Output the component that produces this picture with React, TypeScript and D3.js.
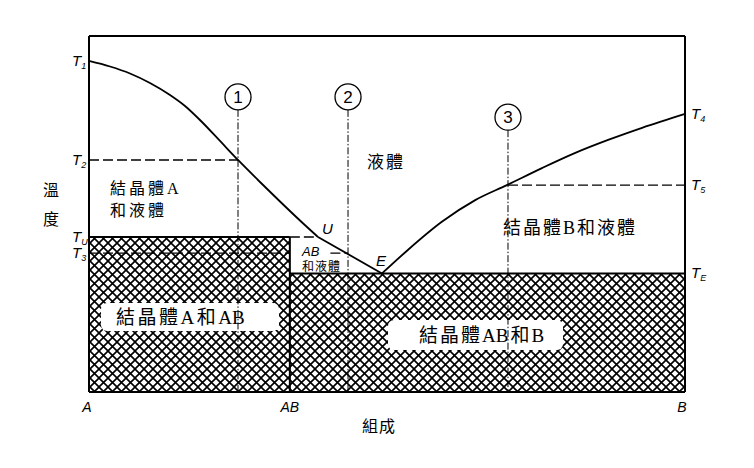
import React from "react";
import * as d3 from "d3";

// ---------- data (composition 0..1 from A to B, temperature 0..100) ----------
const leftLiquidus: [number, number][] = [
  [0, 93.0], [0.0352, 91.43], [0.0688, 89.47], [0.1023, 86.8], [0.1359, 83.43],
  [0.1611, 80.34], [0.1862, 76.4], [0.2198, 70.51], [0.25, 65.17], [0.2869, 58.99],
  [0.3205, 53.51], [0.354, 48.17], [0.3842, 43.54],
];
const peritecticToEutectic: [number, number][] = [[0.3842, 43.54], [0.4916, 33.3]];
const rightLiquidus: [number, number][] = [
  [0.4916, 33.3], [0.535, 39.9], [0.592, 47.8], [0.648, 53.9], [0.701, 58.1],
  [0.76, 62.9], [0.815, 67.1], [0.871, 70.8], [0.928, 74.2], [1, 78.1],
];
const compAB = 0.337;
const compU = 0.3842;
const tempTU = 43.54;
const tempTE = 33.3;
const tempT2 = 65.17;
const tempT3 = 39.0;
const tempT5 = 58.1;
const leftTempLabels = [
  { main: "T", sub: "1", t: 93.0 },
  { main: "T", sub: "2", t: 65.17 },
  { main: "T", sub: "U", t: 43.54 },
  { main: "T", sub: "3", t: 39.0 },
];
const rightTempLabels = [
  { main: "T", sub: "4", t: 78.1 },
  { main: "T", sub: "5", t: 58.1 },
  { main: "T", sub: "E", t: 33.3 },
];
const compTicks = [
  { label: "A", c: 0 },
  { label: "AB", c: 0.337 },
  { label: "B", c: 1 },
];
const isopleths = [
  { id: "1", c: 0.25, circleT: 82.9 },
  { id: "2", c: 0.4346, circleT: 82.9 },
  { id: "3", c: 0.703, circleT: 77.2 },
];

const W = 754;
const H = 468;
const x = d3.scaleLinear().domain([0, 1]).range([89, 685]);
const y = d3.scaleLinear().domain([0, 100]).range([392, 36]);

const CJK = "'Liberation Serif', 'Noto Sans CJK TC', serif";
const ITAL = "'Liberation Sans', 'DejaVu Sans', sans-serif";

export default function App() {
  const line = d3
    .line<[number, number]>()
    .x((d) => x(d[0]))
    .y((d) => y(d[1]))
    .curve(d3.curveMonotoneX);
  const straight = d3
    .line<[number, number]>()
    .x((d) => x(d[0]))
    .y((d) => y(d[1]));

  const R = 13;
  const P = 9;
  return (
    <svg width={W} height={H} style={{ position: "absolute", left: 0, top: 0, background: "#fff" }}>
      <defs>
        <pattern id="hatch" width={P} height={P} patternUnits="userSpaceOnUse">
          <path
            d={`M-2,-2 L${P + 2},${P + 2} M${P + 2},-2 L-2,${P + 2}`}
            stroke="#000"
            strokeWidth={1.6}
            fill="none"
          />
          <path
            d={`M-2,${P - 2} L2,${P + 2} M${P - 2},-2 L${P + 2},2 M-2,2 L2,-2 M${P - 2},${P + 2} L${P + 2},${P - 2}`}
            stroke="#000"
            strokeWidth={1.6}
            fill="none"
          />
        </pattern>
      </defs>
      <rect x={0} y={0} width={W} height={H} fill="#fff" />

      {/* hatched solid regions */}
      <rect x={x(0)} y={y(tempTU)} width={x(compAB) - x(0)} height={y(0) - y(tempTU)} fill="url(#hatch)" />
      <rect x={x(compAB)} y={y(tempTE)} width={x(1) - x(compAB)} height={y(0) - y(tempTE)} fill="url(#hatch)" />

      {/* white label boxes */}
      <rect x={101} y={303} width={178} height={28} rx={6} fill="#fff" />
      <rect x={388} y={320} width={175} height={30} rx={6} fill="#fff" />

      {/* region boundaries */}
      <line x1={x(0)} x2={x(compAB)} y1={y(tempTU)} y2={y(tempTU)} stroke="#000" strokeWidth={2} />
      <line x1={x(compAB)} x2={x(1)} y1={y(tempTE)} y2={y(tempTE)} stroke="#000" strokeWidth={2} />
      <line x1={x(compAB)} x2={x(compAB)} y1={y(tempTU)} y2={y(0)} stroke="#000" strokeWidth={2} />

      {/* horizontal dashed tie lines */}
      <g stroke="#000" strokeWidth={1.3} strokeDasharray="10,4" fill="none">
        <line x1={x(0)} x2={x(0.25)} y1={y(tempT2)} y2={y(tempT2)} />
        <line x1={x(0.703)} x2={x(1)} y1={y(tempT5)} y2={y(tempT5)} />
        <line x1={x(compAB)} x2={x(compU)} y1={y(tempTU)} y2={y(tempTU)} />
        <line x1={x(0)} x2={x(compAB)} y1={y(tempT3)} y2={y(tempT3)} />
        <line x1={x(0.405)} x2={x(0.4346)} y1={y(tempT3)} y2={y(tempT3)} />
      </g>

      {/* isopleths */}
      {isopleths.map((p) => (
        <g key={p.id}>
          <line
            x1={x(p.c)}
            x2={x(p.c)}
            y1={y(p.circleT) + R}
            y2={y(0)}
            stroke="#000"
            strokeWidth={1}
            strokeDasharray="7,2,1.5,2"
          />
          <circle cx={x(p.c)} cy={y(p.circleT)} r={R} fill="#fff" stroke="#000" strokeWidth={1.3} />
          <text x={x(p.c)} y={y(p.circleT) + 6} textAnchor="middle" fontFamily={ITAL} fontSize={17}>
            {p.id}
          </text>
        </g>
      ))}

      {/* liquidus curves */}
      <path d={line(leftLiquidus) || ""} fill="none" stroke="#000" strokeWidth={1.8} />
      <path d={straight(peritecticToEutectic) || ""} fill="none" stroke="#000" strokeWidth={1.8} />
      <path d={line(rightLiquidus) || ""} fill="none" stroke="#000" strokeWidth={1.8} />

      {/* frame */}
      <g stroke="#000" strokeWidth={2} fill="none">
        <line x1={x(0)} x2={x(1)} y1={y(100)} y2={y(100)} />
        <line x1={x(0)} x2={x(0)} y1={y(100)} y2={y(0)} />
        <line x1={x(1)} x2={x(1)} y1={y(100)} y2={y(0)} />
        <line x1={x(0)} x2={x(1)} y1={y(0)} y2={y(0)} />
      </g>

      {/* temperature labels */}
      {leftTempLabels.map((l) => (
        <text key={l.sub} x={72} y={y(l.t) + 5} fontFamily={ITAL} fontStyle="italic" fontSize={15}>
          {l.main}
          <tspan fontSize={9} dy={3}>{l.sub}</tspan>
        </text>
      ))}
      {rightTempLabels.map((l) => (
        <text key={l.sub} x={691} y={y(l.t) + 5} fontFamily={ITAL} fontStyle="italic" fontSize={15}>
          {l.main}
          <tspan fontSize={9} dy={3}>{l.sub}</tspan>
        </text>
      ))}

      {/* composition ticks */}
      {compTicks.map((t) => (
        <text
          key={t.label}
          x={x(t.c) + (t.c === 0 ? -2 : t.c === 1 ? -3 : 0)}
          y={412}
          textAnchor="middle"
          fontFamily={ITAL}
          fontStyle="italic"
          fontSize={14}
        >
          {t.label}
        </text>
      ))}

      {/* axis titles */}
      <text x={379} y={432} textAnchor="middle" fontFamily={CJK} fontSize={16} letterSpacing={1}>組成</text>
      <text x={51} y={196} textAnchor="middle" fontFamily={CJK} fontSize={16}>溫</text>
      <text x={51} y={225} textAnchor="middle" fontFamily={CJK} fontSize={16}>度</text>

      {/* region labels */}
      <text x={367} y={168} fontFamily={CJK} fontSize={17} letterSpacing={2}>液體</text>
      <text x={110} y={194} fontFamily={CJK} fontSize={16} letterSpacing={3}>結晶體A</text>
      <text x={110} y={216} fontFamily={CJK} fontSize={16} letterSpacing={3}>和液體</text>
      <text x={503} y={234} fontFamily={CJK} fontSize={18} letterSpacing={2}>結晶體B和液體</text>
      <text x={116} y={324} fontFamily={CJK} fontSize={19}>
        <tspan letterSpacing={2.5}>結晶體A和</tspan>
        <tspan letterSpacing={0}>AB</tspan>
      </text>
      <text x={419} y={342} fontFamily={CJK} fontSize={19}>
        <tspan letterSpacing={2}>結晶體</tspan>
        <tspan letterSpacing={0}>AB</tspan>
        <tspan letterSpacing={2} dx={2}>和B</tspan>
      </text>
      <text x={302} y={256} fontFamily={ITAL} fontStyle="italic" fontSize={13}>AB</text>
      <text x={302} y={271} fontFamily={CJK} fontSize={12} letterSpacing={1}>和液體</text>
      <text x={322} y={234} fontFamily={ITAL} fontStyle="italic" fontSize={15}>U</text>
      <text x={376} y={266} fontFamily={ITAL} fontStyle="italic" fontSize={15}>E</text>
    </svg>
  );
}
